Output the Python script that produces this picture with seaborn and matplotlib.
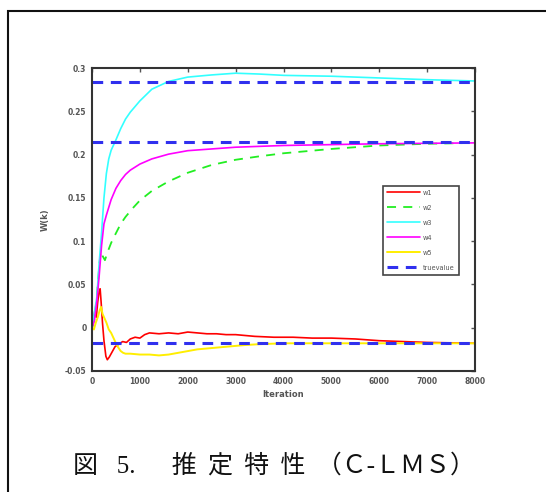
import matplotlib
matplotlib.use("Agg")
import matplotlib.pyplot as plt
import seaborn as sns
import pandas as pd
from matplotlib.patches import Rectangle

# ---- data ----
w1_it = [0, 30, 60, 90, 120, 150, 170, 190, 220, 250, 290, 320, 360, 420, 480, 560, 640, 720,
         800, 900, 1000, 1100, 1200, 1400, 1600, 1800, 2000, 2200, 2400, 2600, 2800, 3000, 3400,
         3800, 4200, 4600, 5000, 5500, 6000, 6500, 7000, 7500, 8000]
w1_val = [0, 0.008, 0.02, 0.012, 0.03, 0.042, 0.045, 0.03, 0.005, -0.015, -0.033, -0.037, -0.034,
          -0.028, -0.022, -0.019, -0.016, -0.017, -0.013, -0.011, -0.012, -0.008, -0.006, -0.007,
          -0.006, -0.007, -0.005, -0.006, -0.007, -0.007, -0.008, -0.008, -0.010, -0.011, -0.011,
          -0.012, -0.012, -0.013, -0.015, -0.016, -0.017, -0.0175, -0.018]

w2_it = [0, 50, 100, 150, 180, 220, 270, 330, 400, 480, 600, 700, 850, 1000, 1250, 1600, 2000,
         2500, 3000, 3500, 4000, 5000, 6000, 7000, 8000]
w2_val = [0, 0.01, 0.035, 0.07, 0.088, 0.083, 0.078, 0.088, 0.098, 0.107, 0.12, 0.128, 0.138,
          0.147, 0.158, 0.169, 0.179, 0.188, 0.194, 0.198, 0.2015, 0.2065, 0.2105, 0.2125, 0.2135]

w3_it = [0, 100, 150, 200, 250, 300, 350, 400, 500, 600, 700, 800, 1000, 1250, 1600, 2000, 2500,
         3000, 3500, 4000, 5000, 6000, 7000, 8000]
w3_val = [0, 0.035, 0.075, 0.11, 0.15, 0.178, 0.195, 0.205, 0.217, 0.23, 0.241, 0.249, 0.262,
          0.2755, 0.2845, 0.2895, 0.292, 0.294, 0.293, 0.2915, 0.2905, 0.2885, 0.2865, 0.285]

w4_it = [0, 50, 100, 150, 200, 250, 300, 400, 500, 600, 700, 800, 1000, 1250, 1600, 2000, 2500,
         3000, 4000, 5000, 6000, 7000, 8000]
w4_val = [0, 0.008, 0.03, 0.06, 0.095, 0.12, 0.13, 0.148, 0.161, 0.17, 0.177, 0.182, 0.189,
          0.195, 0.2005, 0.2045, 0.2065, 0.2085, 0.2105, 0.2115, 0.2125, 0.213, 0.2135]

w5_it = [0, 40, 80, 120, 160, 190, 220, 260, 300, 350, 400, 450, 500, 550, 600, 650, 700, 800,
         1000, 1200, 1400, 1600, 1800, 2000, 2200, 2400, 2600, 2800, 3000, 3200, 3500, 4000,
         5000, 6000, 7000, 8000]
w5_val = [0, -0.002, 0.006, 0.012, 0.02, 0.024, 0.016, 0.011, 0.006, -0.002, -0.006, -0.012,
          -0.018, -0.023, -0.027, -0.029, -0.030, -0.030, -0.031, -0.031, -0.032, -0.031, -0.029,
          -0.027, -0.025, -0.024, -0.023, -0.022, -0.021, -0.020, -0.019, -0.018, -0.018, -0.018,
          -0.018, -0.018]

true_values = [0.284, 0.214, -0.018]

series_names = ["w1", "w2", "w3", "w4", "w5"]
x_ticks = [0, 1000, 2000, 3000, 4000, 5000, 6000, 7000, 8000]
y_ticks = [-0.05, 0, 0.05, 0.1, 0.15, 0.2, 0.25, 0.3]
y_tick_labels = ["-0.05", "0", "0.05", "0.1", "0.15", "0.2", "0.25", "0.3"]
x_label = "Iteration"
y_label = "W(k)"
legend_true = "truevalue"
caption = "図   5.     \u2009推 \u2009定 \u2009特 \u2009性 \u2009（Ｃ-ＬＭＳ）"

# ---- drawing ----
sns.set_theme(style="white")
plt.rcParams['font.family'] = ['DejaVu Sans']

fig = plt.figure(figsize=(5.46, 4.92), dpi=100)
ax = fig.add_axes([92/546, 1-371/492, 383/546, 303/492])

its = [w1_it, w2_it, w3_it, w4_it, w5_it]
vals = [w1_val, w2_val, w3_val, w4_val, w5_val]
colors = ["#ff0000", "#22ee22", "#33ffff", "#ff00ff", "#ffee00"]
styles = ["-", (0, (5, 4)), "-", "-", "-"]
widths = [1.2, 1.3, 1.2, 1.2, 1.4]

for name, it, v, c, ls, lw in zip(series_names, its, vals, colors, styles, widths):
    df = pd.DataFrame({"it": it, "val": v})
    sns.lineplot(data=df, x="it", y="val", ax=ax, color=c, linestyle=ls, lw=lw,
                 label=name, estimator=None, sort=False)

for i, tv in enumerate(true_values):
    ax.axhline(tv, color="#3030ee", lw=2.2, linestyle=(0, (3.5, 2.5)),
               label=legend_true if i == 0 else None)

ax.set_xlim(0, 8000)
ax.set_ylim(-0.05, 0.3)
ax.set_xticks(x_ticks)
ax.set_xticklabels([str(t) for t in x_ticks])
ax.set_yticks(y_ticks)
ax.set_yticklabels(y_tick_labels)
ax.tick_params(direction="in", length=3, width=1, colors="#555555", labelsize=5.5,
               top=True, right=True, pad=4)
for lab in ax.get_xticklabels() + ax.get_yticklabels():
    lab.set_fontweight("bold")
    lab.set_color("#555555")
for s in ax.spines.values():
    s.set_color("#333333")
    s.set_linewidth(1.5)

ax.set_xlabel(x_label, fontsize=6, fontweight="bold", color="#555555", labelpad=3)
ax.set_ylabel(y_label, fontsize=6, fontweight="bold", color="#555555", labelpad=11)

leg = ax.legend(loc="upper left", bbox_to_anchor=(0.76, 0.612), fontsize=4.8,
                handlelength=5.0, labelspacing=1.35, borderpad=0.6, handletextpad=0.4,
                borderaxespad=0, frameon=True, fancybox=False, framealpha=1)
leg.get_frame().set_edgecolor("#444444")
leg.get_frame().set_linewidth(1.2)
for t in leg.get_texts():
    t.set_color("#555555")

fig.text(73/546, 1-466/492, caption, ha="left", va="center", fontsize=18,
         family=["Liberation Serif", "DejaVu Serif", "Noto Sans CJK JP"], color="#111111")

fig.patches.append(Rectangle((8/546, -0.1), 1.2, 1.1 - 11/492, transform=fig.transFigure,
                             fill=False, edgecolor="#111111", linewidth=1.5, figure=fig))

fig.savefig("out.png", dpi=100)
